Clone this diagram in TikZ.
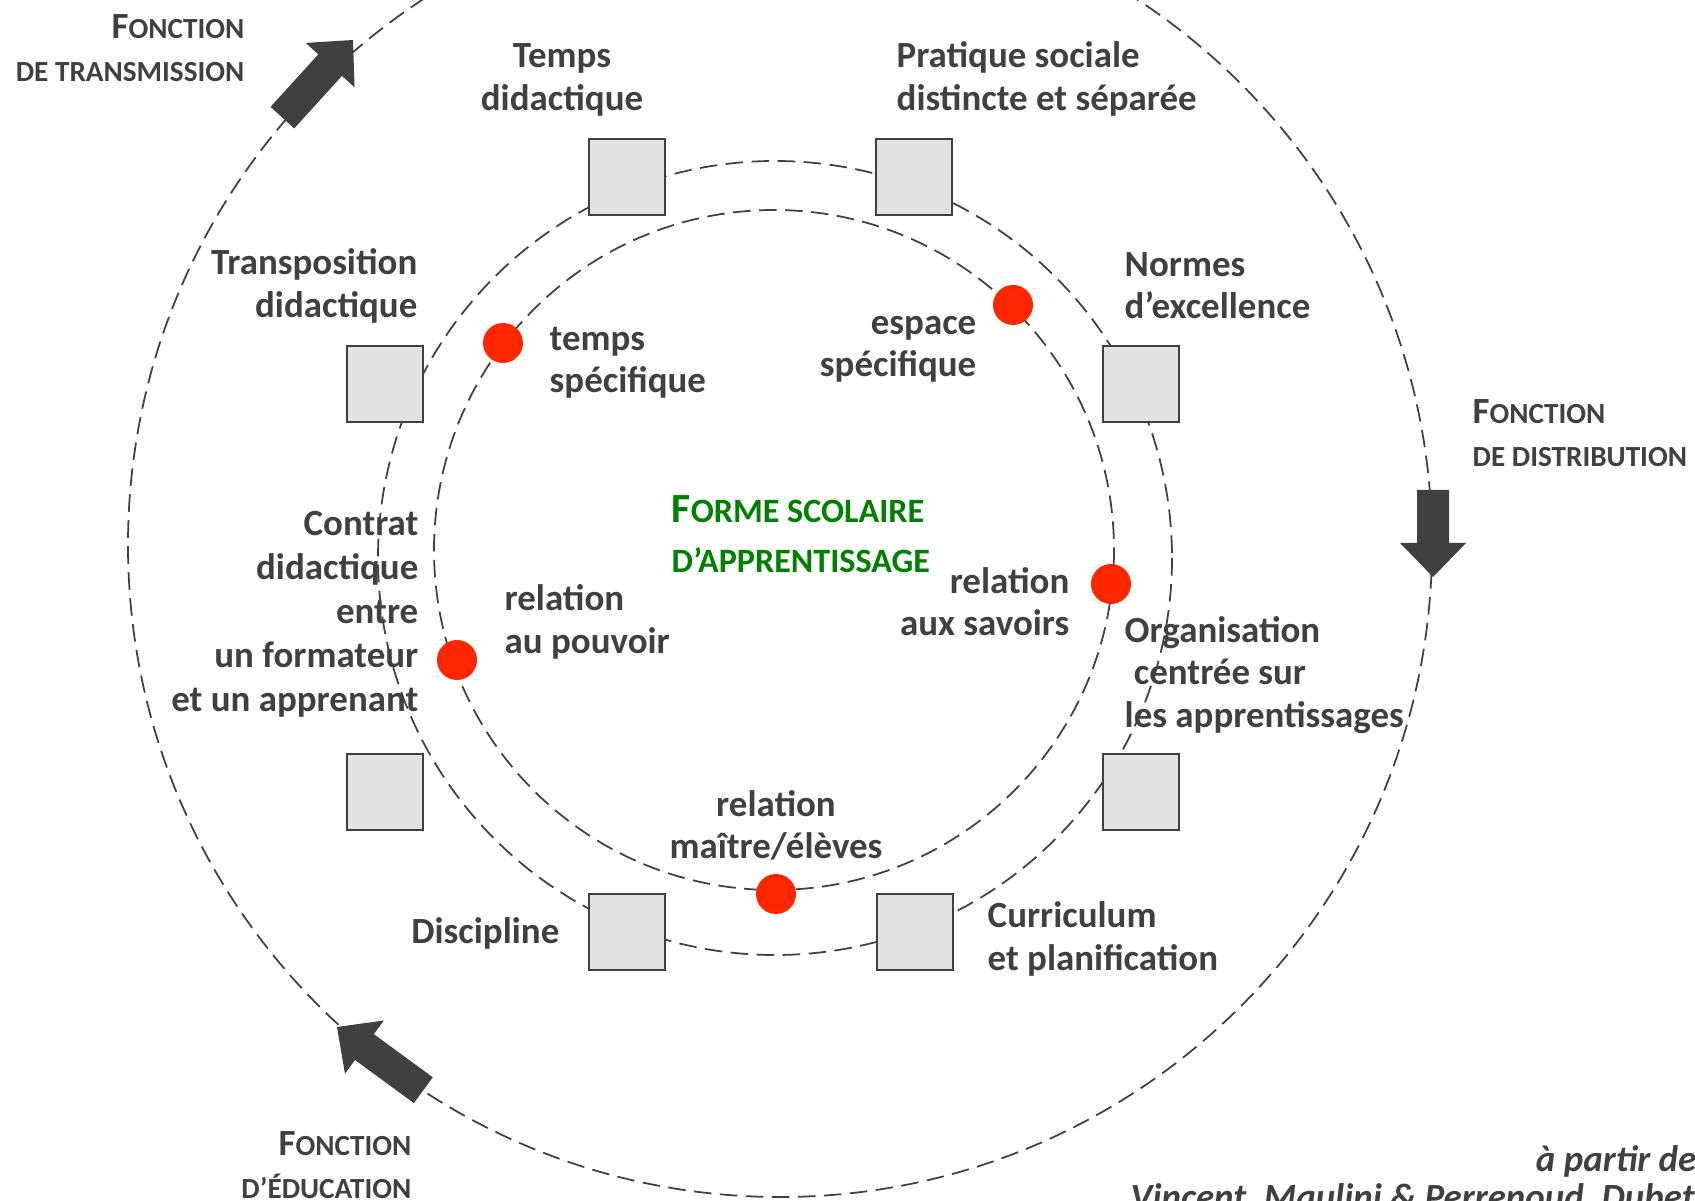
\documentclass[tikz,border=0pt]{standalone}
\usepackage{fontspec}
\setmainfont{Carlito}
\definecolor{inkgray}{RGB}{64,64,64}
\definecolor{boxgray}{RGB}{226,226,226}
\definecolor{dotred}{RGB}{255,38,0}
\definecolor{formgreen}{RGB}{0,128,0}
\newcommand{\initcap}[2][10.5]{{\fontsize{#1}{12}\selectfont #2}}

\tikzset{
  ring/.style={draw=inkgray, line width=0.5pt, dash pattern=on 5pt off 2.4pt},
  pole/.style={draw=inkgray, fill=boxgray, line width=0.7pt, minimum size=0.76cm, inner sep=0pt},
  reddot/.style={circle, fill=dotred, minimum size=0.4cm, inner sep=0pt},
  lbl/.style={text=inkgray, font=\fontsize{10.5}{12}\selectfont\bfseries, inner sep=0pt},
  fct/.style={text=inkgray, font=\fontsize{8.3}{12.2}\selectfont\bfseries, inner sep=0pt},
}

\begin{document}
\begin{tikzpicture}[x=0.01cm, y=-0.01cm]
  % pixel grid of the reference, y downwards
  \useasboundingbox (0,0) rectangle (1695,1201);

  % the three dashed rings: outer = functions, middle = squares, inner = dots
  \draw[ring] (780,545) circle (652);
  \draw[ring] (775,558) circle (397);
  \draw[ring] (774,550) circle (340);

  % big arrows on the outer ring: tip x/y, direction, length
  \foreach \tx/\ty/\ang/\len in {353/40/47.7/105, 1433/577/-90/87, 337/1027/143.8/107} {
    \fill[inkgray, shift={(\tx,\ty)}, rotate=\ang]
      (0,0) -- (-34,33) -- (-34,16) -- (-\len,16) -- (-\len,-16) -- (-34,-16) -- (-34,-33) -- cycle;
  }

  % squares on the middle ring
  \node[pole] (sqTemps)   at (627,177) {};
  \node[pole] (sqPratique) at (914,177) {};
  \node[pole] (sqTransp)  at (385,384) {};
  \node[pole] (sqNormes)  at (1141,384) {};
  \node[pole] (sqContrat) at (385,792) {};
  \node[pole] (sqOrga)    at (1141,792) {};
  \node[pole] (sqDisc)    at (627,932) {};
  \node[pole] (sqCurric)  at (915,932) {};

  % red dots on the inner ring
  \node[reddot] (dTemps)   at (503,343) {};
  \node[reddot] (dEspace)  at (1013,305) {};
  \node[reddot] (dSavoirs) at (1111,584) {};
  \node[reddot] (dPouvoir) at (457,660) {};
  \node[reddot] (dMaitre)  at (776,894) {};

  % labels of the squares
  \node[lbl, align=center] (tTemps) at (562,80) {Temps\\didactique};
  \node[lbl, align=left, anchor=west] (tPratique) at (896,79) {Pratique sociale\\distincte et séparée};
  \node[lbl, align=right, anchor=east] (tTransp) at (418,286) {Transposition\\didactique};
  \node[lbl, align=left, anchor=west] (tNormes) at (1124,286) {Normes\\d’excellence};
  \node[lbl, align=right, anchor=east, font=\fontsize{10.5}{12.5}\selectfont\bfseries] (tContrat) at (419,614)
    {Contrat\\didactique\\entre\\un formateur\\et un apprenant};
  \node[lbl, align=left, anchor=west] (tOrga) at (1124,675) {Organisation\\\hspace{0.25em}centrée sur\\les apprentissages};
  \node[lbl, anchor=east] (tDisc) at (560,933) {Discipline};
  \node[lbl, align=left, anchor=west] (tCurric) at (987,939) {Curriculum\\et planification};

  % labels of the dots
  \node[lbl, align=left, anchor=west] (tTempsSp) at (549,363) {temps\\spécifique};
  \node[lbl, align=right, anchor=east] (tEspace) at (977,349) {espace\\spécifique};
  \node[lbl, align=left, anchor=west] (tPouvoir) at (504,622) {relation\\au pouvoir};
  \node[lbl, align=right, anchor=east] (tSavoirs) at (1070,602) {relation\\aux savoirs};
  \node[lbl, align=center] (tMaitre) at (776,825) {relation\\maître/élèves};

  % centre title
  \node[lbl, align=left, anchor=west, text=formgreen, font=\fontsize{9.7}{14.2}\selectfont\bfseries] (tForme) at (671,534)
    {\initcap[11.8]{F}ORME SCOLAIRE\\D’APPRENTISSAGE};

  % functions
  \node[fct, align=right, anchor=east] (fTrans) at (245,48) {\initcap{F}ONCTION\\DE TRANSMISSION};
  \node[fct, align=left, anchor=west] (fDistr) at (1472,433) {\initcap{F}ONCTION\\DE DISTRIBUTION};
  \node[fct, align=right, anchor=east] (fEduc) at (412,1165) {\initcap{F}ONCTION\\D’ÉDUCATION};

  % source
  \node[lbl, font=\fontsize{10.5}{12}\selectfont\bfseries\itshape, anchor=east] (tSource) at (1697,1161) {à partir de};
  \node[lbl, font=\fontsize{10.5}{12}\selectfont\bfseries\itshape, anchor=west] (tAuthors) at (1130,1199)
    {Vincent, Maulini \& Perrenoud, Dubet};
\end{tikzpicture}
\end{document}
